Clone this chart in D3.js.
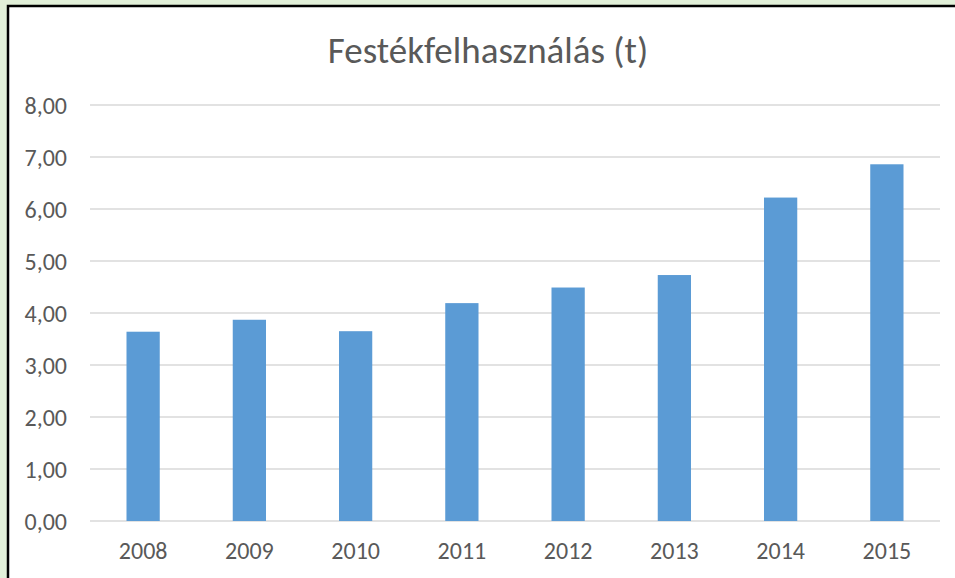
<!DOCTYPE html>
<html>
<head>
<meta charset="utf-8">
<script src="https://cdn.jsdelivr.net/npm/d3@7"></script>
<style>
  body { margin: 0; background: #e2f0d9; }
  svg { display: block; }
  text { font-family: Carlito, "Open Sans", sans-serif; fill: #595959; }
</style>
</head>
<body>
<div id="chart"></div>
<script>

var years = ["2008", "2009", "2010", "2011", "2012", "2013", "2014", "2015"];
var values = [3.64, 3.87, 3.65, 4.19, 4.49, 4.73, 6.22, 6.86];
var yTicks = [0, 1, 2, 3, 4, 5, 6, 7, 8];
var title = "Festékfelhasználás (t)";

var W = 955, H = 578;

var margin = {
    left: 90,
    right: 15,
    top: 105,
    bottom: 57
};

var width = W - margin.left - margin.right;
var height = H - margin.top - margin.bottom;

var SVG = d3.select("#chart")
    .append("svg")
    .attr("width", W)
    .attr("height", H);

// white chart box with dark border, runs past the window on right and bottom
SVG.append("rect")
    .attr("x", 8)
    .attr("y", 6)
    .attr("width", W + 20)
    .attr("height", H + 20)
    .style("fill", "#ffffff")
    .style("stroke", "#000000")
    .style("stroke-width", 2.5);

SVG.append("text")
    .attr("x", 488)
    .attr("y", 63)
    .style("text-anchor", "middle")
    .style("font-size", "37px")
    .text(title);

var svg = SVG.append("g")
    .attr("transform", "translate(" + margin.left + "," + margin.top + ")");

var xScale = d3.scaleBand()
    .domain(years)
    .range([0, width])
    .paddingInner(0.687)
    .paddingOuter(0.3435);

var yScale = d3.scaleLinear()
    .domain([0, 8])
    .range([height, 0]);

svg.selectAll(".grid")
    .data(yTicks).enter()
    .append("line")
    .attr("class", "grid")
    .attr("x1", 0)
    .attr("x2", width)
    .attr("y1", function(d) { return yScale(d); })
    .attr("y2", function(d) { return yScale(d); })
    .style("stroke", "#d9d9d9")
    .style("stroke-width", 1.3);

svg.selectAll(".bar")
    .data(values).enter()
    .append("rect")
    .attr("class", "bar")
    .attr("x", function(d, i) { return xScale(years[i]); })
    .attr("width", xScale.bandwidth())
    .attr("y", function(d) { return yScale(d); })
    .attr("height", function(d) { return height - yScale(d); })
    .style("fill", "#5b9bd5");

var fmt = function(d) { return d3.format(".2f")(d).replace(".", ","); };

var yAxis = d3.axisLeft(yScale).tickValues(yTicks).tickFormat(fmt).tickSize(0).tickPadding(23);
var xAxis = d3.axisBottom(xScale).tickSize(0).tickPadding(21);

svg.append("g")
    .attr("class", "yAxis")
    .call(yAxis)
    .call(function(g) { g.select(".domain").remove(); })
    .selectAll("text")
    .attr("dy", "0.36em")
    .style("font-size", "24px")
    .style("fill", "#595959");

svg.append("g")
    .attr("class", "xAxis")
    .attr("transform", "translate(0," + height + ")")
    .call(xAxis)
    .call(function(g) { g.select(".domain").remove(); })
    .selectAll("text")
    .style("font-size", "24px")
    .style("fill", "#595959");

</script>
</body>
</html>
